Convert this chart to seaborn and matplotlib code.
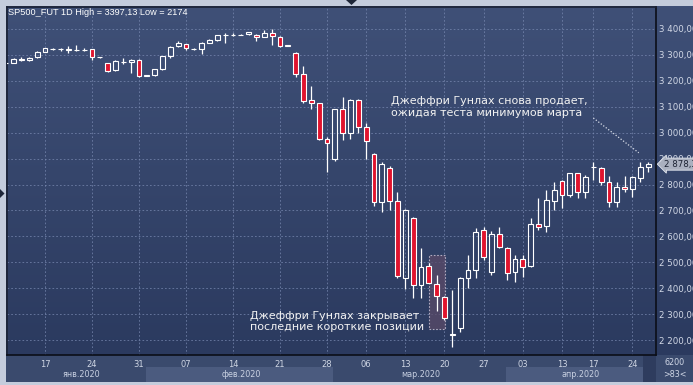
import numpy as np
import matplotlib
matplotlib.use("Agg")
import matplotlib.pyplot as plt
import seaborn as sns
from matplotlib.colors import LinearSegmentedColormap
from matplotlib.patches import Rectangle, Polygon

sns.set_theme(style="dark")
plt.rcParams["font.family"] = ["DejaVu Sans"]

# ---------------- data ----------------
opens = [3266, 3268, 3280, 3279, 3289, 3311, 3320, 3320, 3318, 3317,
         3318, 3320, 3290, 3266, 3240, 3271, 3270, 3279, 3219, 3221,
         3243, 3294, 3332, 3340, 3321, 3321, 3345, 3356, 3375, 3376,
         3376, 3378, 3375, 3369, 3382, 3368, 3335, 3307, 3225, 3125,
         3112, 2974, 2897, 3089, 2997, 3125, 3020, 2916, 2731, 2865,
         2738, 2439, 2670, 2413, 2488, 2416, 2368, 2220, 2247, 2442,
         2471, 2625, 2465, 2610, 2557, 2465, 2512, 2487, 2647, 2640,
         2737, 2813, 2760, 2843, 2770, 2866, 2862, 2808, 2731, 2789,
         2782, 2824, 2866]
highs = [3272, 3288, 3289, 3290, 3315, 3327, 3324, 3326, 3332, 3336,
         3324, 3323, 3292, 3268, 3280, 3285, 3283, 3281, 3222, 3245,
         3296, 3332, 3353, 3342, 3324, 3347, 3358, 3377, 3384, 3384,
         3378, 3388, 3378, 3394, 3397.13, 3370, 3336, 3310, 3256, 3179,
         3115, 2984, 3092, 3135, 3128, 3128, 3035, 2920, 2888, 2870,
         2772, 2705, 2675, 2555, 2497, 2450, 2372, 2394, 2445, 2530,
         2632, 2638, 2622, 2638, 2560, 2529, 2529, 2670, 2750, 2779,
         2808, 2816, 2846, 2846, 2835, 2888, 2866, 2833, 2808, 2834,
         2834, 2885, 2885]
lows = [3262, 3266, 3277, 3276, 3287, 3309, 3319, 3315, 3306, 3314,
        3312, 3279, 3288, 3232, 3236, 3265, 3230, 3212, 3216, 3219,
        3240, 3285, 3328, 3318, 3318, 3302, 3343, 3354, 3345, 3370,
        3374, 3376, 3353, 3367, 3337, 3331, 3332, 3212, 3115, 3089,
        2970, 2849, 2889, 2971, 2974, 2997, 2897, 2717, 2695, 2702,
        2439, 2397, 2362, 2363, 2420, 2315, 2280, 2174, 2234, 2401,
        2439, 2510, 2452, 2555, 2433, 2426, 2445, 2484, 2625, 2619,
        2702, 2708, 2752, 2747, 2747, 2817, 2800, 2715, 2715, 2770,
        2753, 2811, 2849]
closes = [3268, 3284, 3284, 3287, 3311, 3324, 3321, 3321, 3320, 3318,
          3319, 3289, 3291, 3238, 3275, 3273, 3279, 3217, 3221, 3243,
          3294, 3330, 3343, 3325, 3322, 3345, 3356, 3375, 3377, 3377,
          3377, 3386, 3368, 3384, 3371, 3333, 3333, 3225, 3122, 3112,
          2976, 2958, 3089, 2999, 3125, 3020, 2967, 2734, 2878, 2738,
          2448, 2702, 2413, 2484, 2422, 2371, 2285, 2223, 2442, 2471,
          2619, 2522, 2610, 2561, 2461, 2512, 2484, 2647, 2638, 2740,
          2779, 2760, 2843, 2770, 2828, 2867, 2808, 2731, 2789, 2782,
          2828, 2866, 2878.35]

tick_pos = [5, 11, 17, 23, 29, 35, 41, 46, 51, 56, 61, 66, 71, 75, 80]
tick_labels = ["17", "24", "31", "07", "14", "21", "28",
               "06", "13", "20", "27", "03", "13", "17", "24"]
price_ticks = [2200, 2300, 2400, 2500, 2600, 2700, 2800, 2900,
               3000, 3100, 3200, 3300, 3400]
month_names = ["янв.2020", "фев.2020", "мар.2020", "апр.2020"]
month_centers = [9.7, 30.2, 53.0, 73.4]
shaded_months = [(18.0, 41.8), (63.9, 81.3)]

title = "SP500_FUT 1D High = 3397,13 Low = 2174"
note_sell = "Джеффри Гунлах снова продает,\nожидая теста минимумов марта"
note_close = "Джеффри Гунлах закрывает\nпоследние короткие позиции"
last_price = 2878.35
box_x = (54.0, 56.1)
box_y = (2245, 2530)
arrow_line_x = [75.0, 80.8]
arrow_line_y = [3056, 2922]

# ---------------- layout helpers ----------------
W, H = 693, 385
def fr(x0, y0, x1, y1):
    return [x0 / W, 1 - y1 / H, (x1 - x0) / W, (y1 - y0) / H]

fig = plt.figure(figsize=(W / 100, H / 100), dpi=100, facecolor="#c4ccdc")

cmap = LinearSegmentedColormap.from_list("bg", ["#2b3a5f", "#3f5077"])
grad = np.linspace(0, 1, 256).reshape(-1, 1)

# gradient background for plot + right axis panel
bg = fig.add_axes(fr(6, 6, 693, 355))
bg.imshow(grad, cmap=cmap, aspect="auto", origin="lower", extent=[0, 1, 0, 1])
bg.set_axis_off()
bg.set_zorder(0)

# bottom band
bb = fig.add_axes(fr(6, 355, 656, 382))
bb.set_facecolor("#3a4a6d")
bb.set_xlim(0.15, 83.0)
bb.set_ylim(0, 1)
bb.set_xticks([]); bb.set_yticks([])
for s in bb.spines.values():
    s.set_visible(False)
for a, b in shaded_months:
    bb.add_patch(Rectangle((a, 0.0), b - a, 0.55, facecolor="#4b5b7f", edgecolor="none"))
bb.add_patch(Rectangle((81.4, 0.0), 1.7, 1.0, facecolor="#2e3c5e", edgecolor="none"))
for name, cx in zip(month_names, month_centers):
    bb.text(cx, 0.27, name, ha="center", va="center", fontsize=5.8, color="#c9d1e2")
bb.set_zorder(1)

# bottom right panel
br = fig.add_axes(fr(656, 355, 693, 382))
br.set_facecolor("#3a4a6d")
br.set_xticks([]); br.set_yticks([])
for s in br.spines.values():
    s.set_visible(False)
br.text(0.5, 0.72, "6200", ha="center", va="center", fontsize=5.8, color="#d0d7e6",
        transform=br.transAxes)
br.text(0.5, 0.28, ">83<", ha="center", va="center", fontsize=5.8, color="#d0d7e6",
        transform=br.transAxes)

# main plot
ax = fig.add_axes(fr(7, 7, 656, 355))
ax.set_facecolor("none")
ax.set_zorder(3)

x = np.arange(len(opens))
o = np.array(opens, float); c = np.array(closes, float)
h = np.array(highs, float); l = np.array(lows, float)
lo_body = np.minimum(o, c); hi_body = np.maximum(o, c)
height = np.maximum(hi_body - lo_body, 0.6)
down = c < o

# highlight box
ax.add_patch(Rectangle((box_x[0], box_y[0]), box_x[1] - box_x[0], box_y[1] - box_y[0],
                       facecolor="#5a4a68", alpha=0.75, edgecolor="#d8d0e0",
                       linestyle=(0, (1.5, 1.5)), linewidth=0.8, zorder=1))

ax.vlines(x, l, lo_body, color="white", linewidth=0.9, zorder=2)
ax.vlines(x, hi_body, h, color="white", linewidth=0.9, zorder=2)
ax.bar(x[down], height[down], bottom=lo_body[down], width=0.62,
       color="#e0142e", edgecolor="white", linewidth=0.8, zorder=3)
ax.bar(x[~down], height[~down], bottom=lo_body[~down], width=0.62,
       facecolor="none", edgecolor="white", linewidth=0.8, zorder=3)

ax.set_xlim(0.15, 83.0)
ax.set_ylim(2144, 3483)
ax.set_xticks(tick_pos)
ax.set_xticklabels(tick_labels)
ax.set_yticks(price_ticks)
ax.set_yticklabels([f"{v:,.2f}".replace(",", " ").replace(".", ",") for v in price_ticks])
ax.yaxis.tick_right()
ax.tick_params(axis="y", length=0, pad=2.0, labelsize=6.2, labelcolor="#d3d9e7")
ax.tick_params(axis="x", length=0, pad=3.5, labelsize=6.0, labelcolor="#cfd6e4")
ax.grid(True, color="#7888b0", linestyle=(0, (2, 2.5)), linewidth=0.6, alpha=0.85)
ax.set_axisbelow(True)
for side in ["left", "top"]:
    ax.spines[side].set_color("#1b2235"); ax.spines[side].set_linewidth(1.2)
for side in ["right", "bottom"]:
    ax.spines[side].set_color("#0b0e18"); ax.spines[side].set_linewidth(1.2)

# texts
ax.text(0.0015, 0.983, title, transform=ax.transAxes, ha="left", va="center",
        fontsize=6.6, color="white", family=["Liberation Sans", "DejaVu Sans"])
ax.text(49.2, 3099, note_sell, ha="left", va="center", fontsize=8, color="#f2f2f2",
        linespacing=1.2)
ax.text(31.2, 2273, note_close, ha="left", va="center", fontsize=8, color="#f2f2f2",
        linespacing=1.2)
ax.plot(arrow_line_x, arrow_line_y, color="#d8dde8", linestyle=(0, (1, 1.5)),
        linewidth=0.9, zorder=2)

# last price tag
ax.text(1.012, last_price, "2 878,35", transform=ax.get_yaxis_transform(),
        ha="left", va="center", fontsize=6.2, color="#1c2232", clip_on=False,
        bbox=dict(boxstyle="larrow,pad=0.18", facecolor="#aab0bf",
                  edgecolor="#e2e6ee", linewidth=0.6), zorder=10)

# frame decorations (small triangles)
fig.patches.append(Polygon([[346 / W, 1.0], [357 / W, 1.0], [351.5 / W, 1 - 5 / H]],
                           closed=True, transform=fig.transFigure, facecolor="#1e2638",
                           edgecolor="none"))
fig.patches.append(Polygon([[0, 1 - 189 / H], [0, 1 - 198 / H], [4.5 / W, 1 - 193.5 / H]],
                           closed=True, transform=fig.transFigure, facecolor="#1e2638",
                           edgecolor="none"))

fig.savefig("out.png", dpi=100, facecolor=fig.get_facecolor())
